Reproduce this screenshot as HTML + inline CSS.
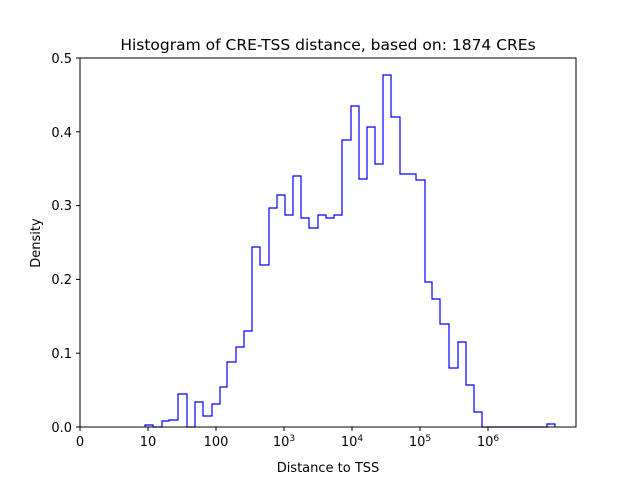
<!DOCTYPE html>
<html><head><meta charset="utf-8"><style>body{margin:0;background:#fff}svg{display:block}text{font-family:"DejaVu Sans","Liberation Sans",sans-serif;fill:#000}</style></head>
<body>
<svg width="640" height="480" viewBox="0 0 640 480" xmlns="http://www.w3.org/2000/svg">
<rect width="640" height="480" fill="#fff"/>
<polyline fill="none" stroke="#0000ff" stroke-width="1.2" stroke-linejoin="miter" points="145,427 145,425 153,425 153,427 162,427 162,421 169,421 169,420 178,420 178,394 187,394 187,427 195,427 195,402 203,402 203,416 212,416 212,404 220,404 220,387 227,387 227,362 236,362 236,347 244,347 244,331 252,331 252,247 260,247 260,265 269,265 269,208 277,208 277,195 285,195 285,215 293,215 293,176 301,176 301,218 309,218 309,228 318,228 318,215 326,215 326,218 334,218 334,215 342,215 342,140 351,140 351,106 359,106 359,179 367,179 367,127 375,127 375,164 383,164 383,75 391,75 391,117 400,117 400,174 416,174 416,180 425,180 425,282 432,282 432,299 440,299 440,324 449,324 449,368 458,368 458,342 466,342 466,385 474,385 474,412 482,412 482,427 547,427 547,424 555,424 555,427"/>
<rect x="80" y="58" width="496" height="369" fill="none" stroke="#000" stroke-width="1"/>
<g stroke="#000" stroke-width="1">
<line x1="80" y1="427" x2="80" y2="431"/><line x1="148" y1="427" x2="148" y2="431"/><line x1="216" y1="427" x2="216" y2="431"/><line x1="284" y1="427" x2="284" y2="431"/><line x1="352" y1="427" x2="352" y2="431"/><line x1="420" y1="427" x2="420" y2="431"/><line x1="488" y1="427" x2="488" y2="431"/>
<line x1="76" y1="427" x2="80" y2="427"/><line x1="76" y1="353.2" x2="80" y2="353.2"/><line x1="76" y1="279.4" x2="80" y2="279.4"/><line x1="76" y1="205.6" x2="80" y2="205.6"/><line x1="76" y1="131.8" x2="80" y2="131.8"/><line x1="76" y1="58" x2="80" y2="58"/>
</g>
<g font-size="13" text-anchor="middle">
<text x="80" y="446">0</text><text x="148" y="446">10</text><text x="216" y="446">100</text>
<text x="284" y="446">10<tspan font-size="9" dy="-5">3</tspan></text>
<text x="352" y="446">10<tspan font-size="9" dy="-5">4</tspan></text>
<text x="420" y="446">10<tspan font-size="9" dy="-5">5</tspan></text>
<text x="488" y="446">10<tspan font-size="9" dy="-5">6</tspan></text>
</g>
<g font-size="13" text-anchor="end">
<text x="72" y="432">0.0</text><text x="72" y="358">0.1</text><text x="72" y="284">0.2</text><text x="72" y="210">0.3</text><text x="72" y="137">0.4</text><text x="72" y="63">0.5</text>
</g>
<text x="328" y="472" font-size="13" text-anchor="middle">Distance to TSS</text>
<text x="40" y="243" font-size="13" text-anchor="middle" transform="rotate(-90 40 243)">Density</text>
<text x="328" y="50" font-size="15.5" text-anchor="middle">Histogram of CRE-TSS distance, based on: 1874 CREs</text>
</svg>
</body></html>
